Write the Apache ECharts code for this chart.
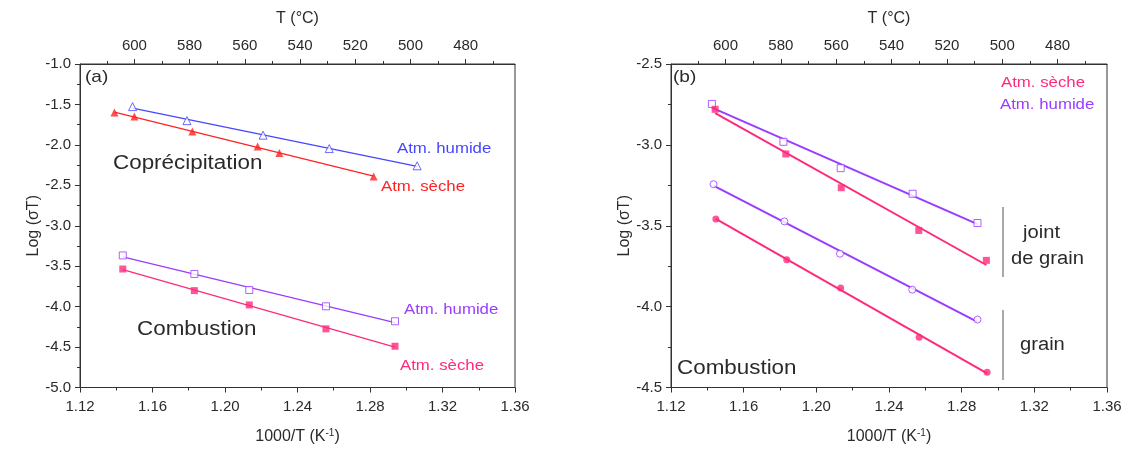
<!DOCTYPE html>
<html><head><meta charset="utf-8">
<script src="https://cdn.jsdelivr.net/npm/echarts@6/dist/echarts.min.js"></script>
<style>html,body{margin:0;padding:0;background:#fff}#c{width:1127px;height:450px}</style>
</head><body><div id="c"></div>
<script>
// ---- data ----
const xTicksK = [1.12, 1.16, 1.20, 1.24, 1.28, 1.32, 1.36];
const tTicksC = [480, 500, 520, 540, 560, 580, 600];
const tMinorC = [470, 490, 510, 530, 550, 570, 590, 610];

// panel (a)
const copHumideX = [1.149, 1.179, 1.221, 1.2575, 1.306];
const copHumideY = [-1.527, -1.700, -1.880, -2.046, -2.259];
const copSecheX  = [1.139, 1.150, 1.182, 1.218, 1.230, 1.282];
const copSecheY  = [-1.600, -1.650, -1.836, -2.021, -2.099, -2.391];
const comHumideX = [1.1436, 1.1831, 1.2134, 1.2557, 1.2938];
const comHumideY = [-3.367, -3.596, -3.794, -3.996, -4.181];
const comSecheX  = [1.1436, 1.1831, 1.2134, 1.2557, 1.2938];
const comSecheY  = [-3.535, -3.802, -3.979, -4.275, -4.490];

// panel (b)
const jgHumideX = [1.1425, 1.1819, 1.2134, 1.2530, 1.2887];
const jgHumideY = [-2.747, -2.981, -3.144, -3.302, -3.483];
const jgSecheX  = [1.1443, 1.1832, 1.2137, 1.2564, 1.2936];
const jgSecheY  = [-2.780, -3.056, -3.265, -3.529, -3.714];
const grHumideX = [1.1434, 1.1824, 1.2130, 1.2528, 1.2887];
const grHumideY = [-3.243, -3.473, -3.673, -3.895, -4.080];
const grSecheX  = [1.1447, 1.1837, 1.2134, 1.2566, 1.2940];
const grSecheY  = [-3.459, -3.710, -3.885, -4.190, -4.406];

// ---- helpers ----
const FONT = 'Liberation Sans, Arial, sans-serif';
const INK = '#2a2a2a';
const BLUE = '#4646ff', RED = '#ff2222', PURPLE = '#9a3cff', PINK = '#ff2a7c';
const zip = (xs, ys) => xs.map((x, i) => [x, ys[i]]);
function fit(xs, ys) {
  const n = xs.length;
  const mx = xs.reduce((a, b) => a + b, 0) / n, my = ys.reduce((a, b) => a + b, 0) / n;
  let sxy = 0, sxx = 0;
  for (let i = 0; i < n; i++) { sxy += (xs[i] - mx) * (ys[i] - my); sxx += (xs[i] - mx) ** 2; }
  const b = sxy / sxx, a = my - b * mx;
  const x0 = Math.min(...xs), x1 = Math.max(...xs);
  return [[x0, a + b * x0], [x1, a + b * x1]];
}
function pair(name, xs, ys, color, symbol, filled, grid, lw) {
  return [
    { name: name + ' fit', type: 'line', xAxisIndex: grid, yAxisIndex: grid, data: fit(xs, ys),
      showSymbol: false, symbol: 'none', lineStyle: { color, width: lw }, silent: true, z: 2 },
    { name, type: 'scatter', xAxisIndex: grid, yAxisIndex: grid, data: zip(xs, ys),
      symbol, symbolSize: symbol === 'triangle' ? 8 : 7,
      itemStyle: filled ? { color } : { color: '#fff', borderColor: color, borderWidth: 1 }, z: 3 }
  ];
}
const tMin = 1000 / 1.36 - 273.15, tMax = 1000 / 1.12 - 273.15;
const axisLine = { lineStyle: { color: '#333', width: 1 } };
const tickLbl = { color: INK, fontSize: 15, fontFamily: FONT };
const nameStyle = { color: INK, fontSize: 16, fontFamily: FONT };
function bottomAxis(g) {
  return { type: 'value', gridIndex: g, position: 'bottom', min: 1.12, max: 1.36, interval: 0.04,
    axisLine, axisTick: { show: true, length: 5, lineStyle: { color: '#333' } },
    minorTick: { show: true, splitNumber: 2, length: 3, lineStyle: { color: '#333' } },
    splitLine: { show: false },
    axisLabel: Object.assign({ margin: 12, formatter: v => v.toFixed(2) }, tickLbl),
    name: '1000/T (K{s|-1})', nameLocation: 'middle', nameGap: 41,
    nameTextStyle: Object.assign({
      rich: { s: { fontSize: 10, verticalAlign: 'top', color: INK, fontFamily: FONT, padding: [0, 0, 7, 0] } } }, nameStyle) };
}
function topAxis(g) {
  return { type: 'value', gridIndex: g, position: 'top', inverse: true, min: tMin, max: tMax,
    axisLine, splitLine: { show: false },
    axisTick: { show: true, length: 5, customValues: tTicksC, lineStyle: { color: '#333' } },
    axisLabel: Object.assign({ margin: 11, customValues: tTicksC }, tickLbl),
    name: 'T (°C)', nameLocation: 'middle', nameGap: 37,
    nameTextStyle: nameStyle };
}
function topMinor(g) {
  return { type: 'value', gridIndex: g, position: 'top', inverse: true, min: tMin, max: tMax,
    axisLine: { show: false }, splitLine: { show: false },
    axisTick: { show: true, length: 3, customValues: tMinorC, lineStyle: { color: '#333' } },
    axisLabel: { show: false } };
}
function leftAxis(g, min, max, gap) {
  return { type: 'value', gridIndex: g, min, max, interval: 0.5,
    axisLine: { show: true, lineStyle: { color: '#333' } },
    axisTick: { show: true, length: 5, lineStyle: { color: '#333' } },
    minorTick: { show: true, splitNumber: 2, length: 3, lineStyle: { color: '#333' } },
    splitLine: { show: false },
    axisLabel: Object.assign({ margin: 9, formatter: v => v.toFixed(1) }, tickLbl),
    name: 'Log (σT)', nameLocation: 'middle', nameGap: gap, nameRotate: 90,
    nameTextStyle: nameStyle };
}
function txt(x, y, text, color, size) {
  return { type: 'text', left: x, top: y, scaleX: 1.12, originX: 0, originY: 0,
    style: { text, fill: color, fontSize: size, fontFamily: FONT }, z: 10 };
}
function vline(x, y1, y2) {
  return { type: 'line', shape: { x1: x, y1, x2: x, y2 }, style: { stroke: '#555', lineWidth: 1 }, z: 10 };
}

const option = {
  backgroundColor: '#fff',
  animation: false,
  grid: [
    { left: 80, right: 612, top: 64, bottom: 62, show: true, borderColor: '#333', borderWidth: 1 },
    { left: 671, right: 20, top: 64, bottom: 62, show: true, borderColor: '#333', borderWidth: 1 }
  ],
  xAxis: [bottomAxis(0), bottomAxis(1), topAxis(0), topAxis(1), topMinor(0), topMinor(1)],
  yAxis: [leftAxis(0, -5, -1, 36), leftAxis(1, -4.5, -2.5, 35)],
  series: [
    ...pair('Cop. Atm. humide', copHumideX, copHumideY, BLUE, 'triangle', false, 0, 1.3),
    ...pair('Cop. Atm. sèche', copSecheX, copSecheY, RED, 'triangle', true, 0, 1.3),
    ...pair('Comb. Atm. humide', comHumideX, comHumideY, PURPLE, 'rect', false, 0, 1.3),
    ...pair('Comb. Atm. sèche', comSecheX, comSecheY, PINK, 'rect', true, 0, 1.3),
    ...pair('Joint humide', jgHumideX, jgHumideY, PURPLE, 'rect', false, 1, 2),
    ...pair('Joint sèche', jgSecheX, jgSecheY, PINK, 'rect', true, 1, 2),
    ...pair('Grain humide', grHumideX, grHumideY, PURPLE, 'circle', false, 1, 2),
    ...pair('Grain sèche', grSecheX, grSecheY, PINK, 'circle', true, 1, 2)
  ],
  graphic: [
    txt(85, 69, '(a)', INK, 17),
    txt(113, 153, 'Coprécipitation', INK, 20),
    txt(397, 141, 'Atm. humide', BLUE, 15),
    txt(381, 179, 'Atm. sèche', RED, 15),
    txt(404, 302, 'Atm. humide', PURPLE, 15),
    txt(400, 358, 'Atm. sèche', PINK, 15),
    txt(137, 319, 'Combustion', INK, 20),
    txt(673, 69, '(b)', INK, 17),
    txt(1001, 75, 'Atm. sèche', PINK, 15),
    txt(1000, 97, 'Atm. humide', PURPLE, 15),
    txt(677, 358, 'Combustion', INK, 20),
    txt(1023, 224, 'joint', INK, 18),
    txt(1011, 250, 'de grain', INK, 18),
    txt(1020, 336, 'grain', INK, 18),
    vline(1003, 207, 277),
    vline(1003, 310, 380)
  ]
};
echarts.init(document.getElementById('c'), null, { renderer: 'canvas' }).setOption(option);
</script>
</body></html>
